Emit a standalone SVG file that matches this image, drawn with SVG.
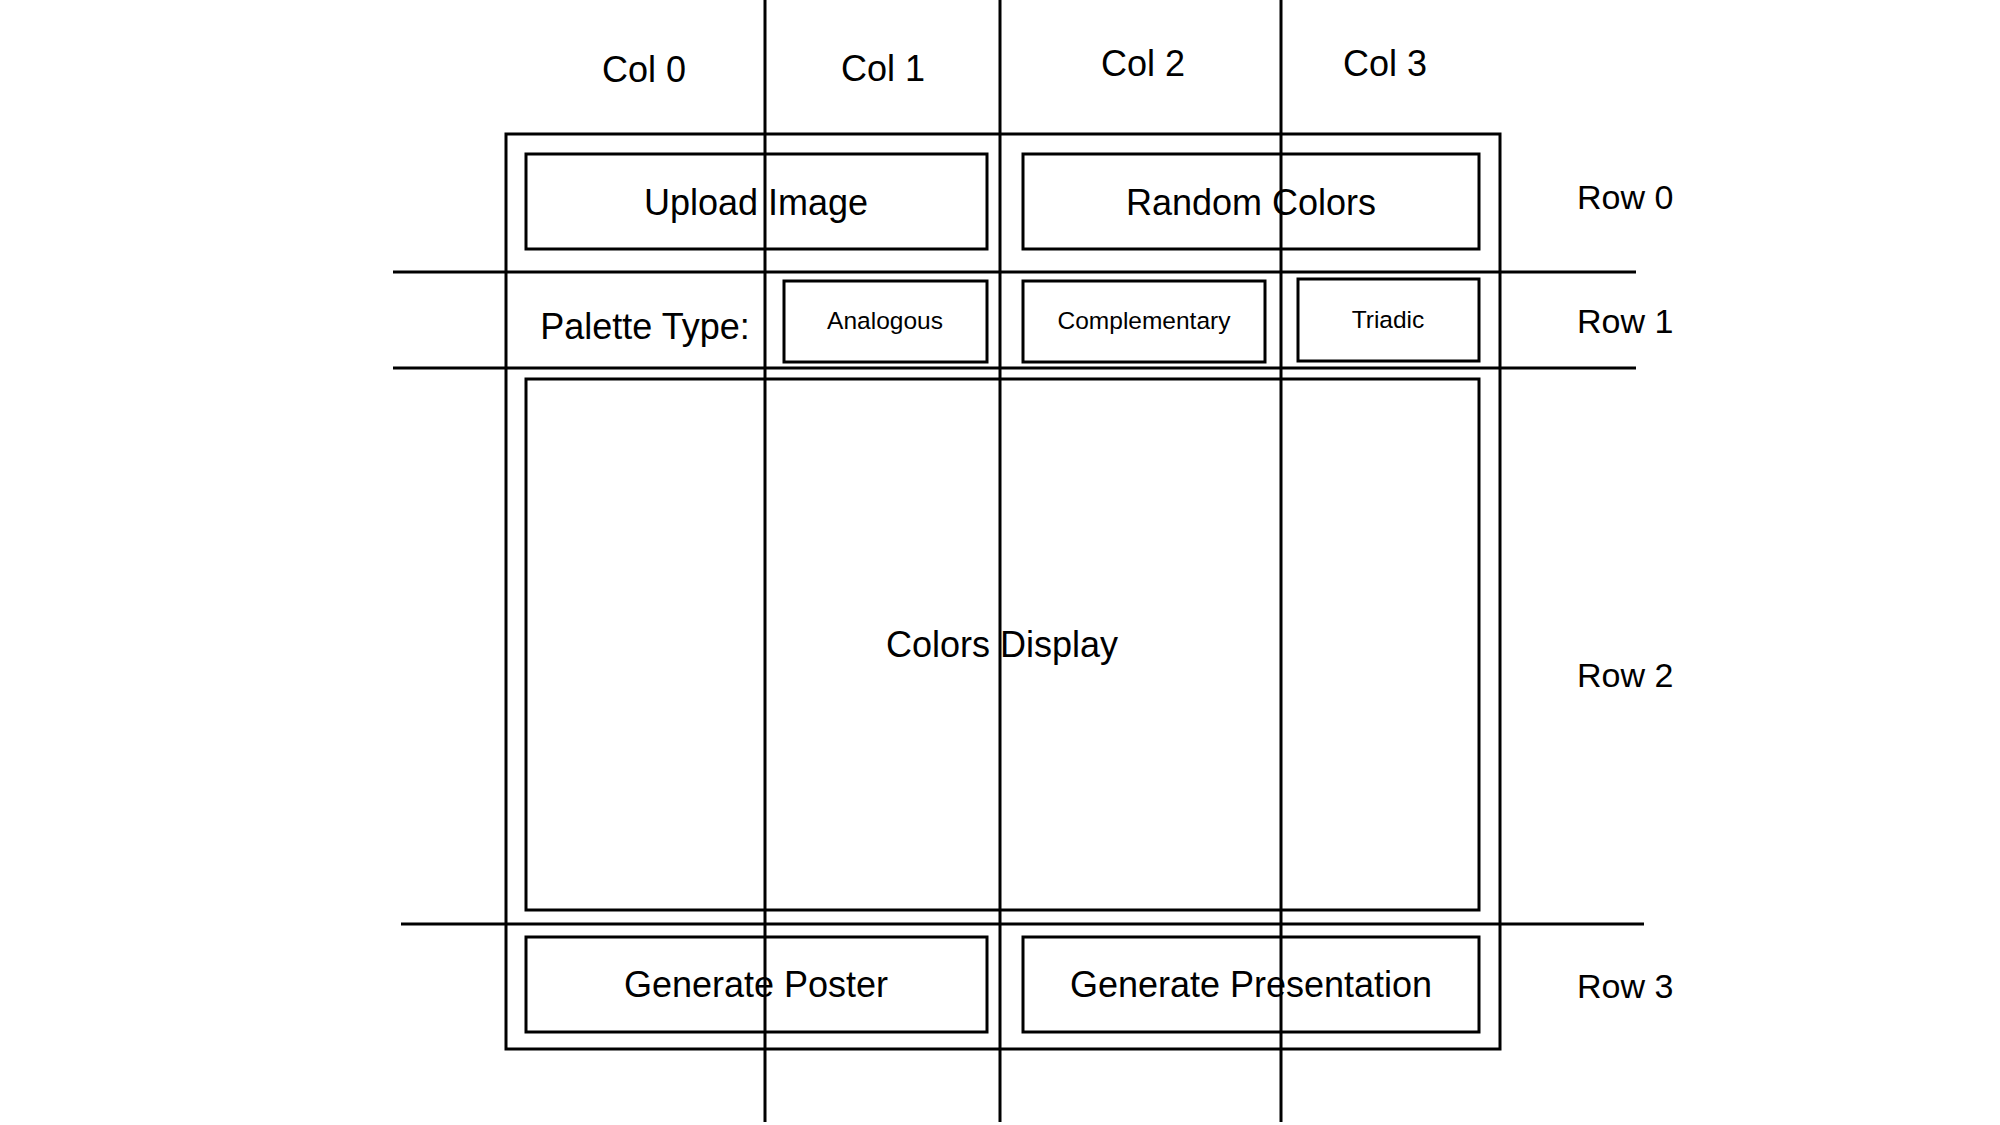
<svg xmlns="http://www.w3.org/2000/svg" width="2000" height="1125" viewBox="0 0 2000 1125">
<style>
.box{fill:none;stroke:#000;stroke-width:3}
.ln{stroke:#000;stroke-width:3;fill:none}
.t{font-family:"Liberation Sans",Arial,sans-serif;font-size:36px;fill:#000;text-anchor:middle}
.s{font-family:"Liberation Sans",Arial,sans-serif;font-size:24.5px;fill:#000;text-anchor:middle}
.r{font-family:"Liberation Sans",Arial,sans-serif;font-size:34px;fill:#000}
</style>
<rect width="2000" height="1125" fill="#fff"/>
<g id="frame"><rect class="box" x="506" y="134" width="994" height="915"/></g>
<g id="upload-image"><rect class="box" x="526" y="154" width="461" height="95"/><text class="t" x="756" y="215">Upload Image</text></g>
<g id="random-colors"><rect class="box" x="1023" y="154" width="456" height="95"/><text class="t" x="1251" y="215">Random Colors</text></g>
<g id="palette-type"><text class="t" x="645" y="339">Palette Type:</text></g>
<g id="analogous"><rect class="box" x="784" y="281" width="203" height="81"/><text class="s" x="885" y="329">Analogous</text></g>
<g id="complementary"><rect class="box" x="1023" y="281" width="242" height="81"/><text class="s" x="1144" y="329">Complementary</text></g>
<g id="triadic"><rect class="box" x="1298" y="279" width="181" height="82"/><text class="s" x="1388" y="328">Triadic</text></g>
<g id="colors-display"><rect class="box" x="526" y="379" width="953" height="531"/><text class="t" x="1002" y="657">Colors Display</text></g>
<g id="generate-poster"><rect class="box" x="526" y="937" width="461" height="95"/><text class="t" x="756" y="997">Generate Poster</text></g>
<g id="generate-presentation"><rect class="box" x="1023" y="937" width="456" height="95"/><text class="t" x="1251" y="997">Generate Presentation</text></g>
<g id="col-labels">
<text class="t" x="644" y="82">Col 0</text>
<text class="t" x="883" y="81">Col 1</text>
<text class="t" x="1143" y="76">Col 2</text>
<text class="t" x="1385" y="76">Col 3</text>
</g>
<g id="row-labels">
<text class="r" x="1577" y="209">Row 0</text>
<text class="r" x="1577" y="333">Row 1</text>
<text class="r" x="1577" y="687">Row 2</text>
<text class="r" x="1577" y="998">Row 3</text>
</g>
<g id="connectors">
<line class="ln" x1="765" y1="0" x2="765" y2="1122"/>
<line class="ln" x1="1000" y1="0" x2="1000" y2="1122"/>
<line class="ln" x1="1281" y1="0" x2="1281" y2="1122"/>
<line class="ln" x1="393" y1="272" x2="1636" y2="272"/>
<line class="ln" x1="393" y1="368" x2="1636" y2="368"/>
<line class="ln" x1="401" y1="924" x2="1644" y2="924"/>
</g>
</svg>
